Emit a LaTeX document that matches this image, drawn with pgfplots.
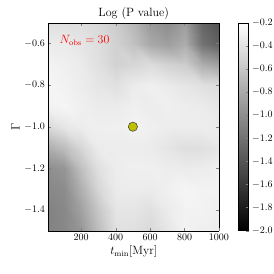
\documentclass[border=0pt]{standalone}
\usepackage{pgfplots}
\pgfplotsset{compat=1.18}
\usepackage{pgfplotstable}
\definecolor{dotc}{rgb}{0.75,0.75,0.0}
\pgfplotstableread{
x y v
10 -1.5 -1.08
100 -1.5 -1.04
200 -1.5 -0.94
300 -1.5 -0.67
400 -1.5 -0.42
500 -1.5 -0.42
600 -1.5 -0.47
700 -1.5 -0.38
800 -1.5 -0.29
900 -1.5 -0.31
1000 -1.5 -0.33
10 -1.4 -1.08
100 -1.4 -1.04
200 -1.4 -0.86
300 -1.4 -0.60
400 -1.4 -0.38
500 -1.4 -0.38
600 -1.4 -0.42
700 -1.4 -0.34
800 -1.4 -0.29
900 -1.4 -0.29
1000 -1.4 -0.31
10 -1.3 -1.04
100 -1.3 -1.01
200 -1.3 -0.76
300 -1.3 -0.49
400 -1.3 -0.34
500 -1.3 -0.33
600 -1.3 -0.34
700 -1.3 -0.31
800 -1.3 -0.27
900 -1.3 -0.29
1000 -1.3 -0.29
10 -1.2 -0.99
100 -1.2 -0.94
200 -1.2 -0.64
300 -1.2 -0.42
400 -1.2 -0.33
500 -1.2 -0.31
600 -1.2 -0.31
700 -1.2 -0.33
800 -1.2 -0.34
900 -1.2 -0.33
1000 -1.2 -0.31
10 -1.1 -0.78
100 -1.1 -0.67
200 -1.1 -0.49
300 -1.1 -0.34
400 -1.1 -0.33
500 -1.1 -0.33
600 -1.1 -0.34
700 -1.1 -0.38
800 -1.1 -0.43
900 -1.1 -0.42
1000 -1.1 -0.38
10 -1.0 -0.47
100 -1.0 -0.38
200 -1.0 -0.33
300 -1.0 -0.31
400 -1.0 -0.31
500 -1.0 -0.29
600 -1.0 -0.31
700 -1.0 -0.33
800 -1.0 -0.33
900 -1.0 -0.33
1000 -1.0 -0.34
10 -0.9 -0.29
100 -0.9 -0.27
200 -0.9 -0.31
300 -0.9 -0.34
400 -0.9 -0.34
500 -0.9 -0.31
600 -0.9 -0.33
700 -0.9 -0.31
800 -0.9 -0.33
900 -0.9 -0.34
1000 -0.9 -0.38
10 -0.8 -0.27
100 -0.8 -0.29
200 -0.8 -0.33
300 -0.8 -0.38
400 -0.8 -0.42
500 -0.8 -0.34
600 -0.8 -0.31
700 -0.8 -0.34
800 -0.8 -0.38
900 -0.8 -0.42
1000 -0.8 -0.45
10 -0.7 -0.29
100 -0.7 -0.31
200 -0.7 -0.34
300 -0.7 -0.42
400 -0.7 -0.52
500 -0.7 -0.49
600 -0.7 -0.45
700 -0.7 -0.52
800 -0.7 -0.56
900 -0.7 -0.78
1000 -0.7 -0.88
10 -0.6 -0.34
100 -0.6 -0.34
200 -0.6 -0.38
300 -0.6 -0.43
400 -0.6 -0.52
500 -0.6 -0.63
600 -0.6 -0.81
700 -0.6 -0.88
800 -0.6 -0.78
900 -0.6 -1.19
1000 -0.6 -1.32
10 -0.5 -0.42
100 -0.5 -0.42
200 -0.5 -0.43
300 -0.5 -0.47
400 -0.5 -0.56
500 -0.5 -0.70
600 -0.5 -0.92
700 -0.5 -1.01
800 -0.5 -0.88
900 -0.5 -1.28
1000 -0.5 -1.42
}\pvaltable
\begin{document}
\begin{tikzpicture}
\useasboundingbox (-48.5pt,-43.3pt) rectangle (225.5pt,230.7pt);
\begin{axis}[
  at={(0pt,0pt)}, anchor=south west,
  scale only axis, width=170.5pt, height=208pt,
  view={0}{90},
  xmin=10, xmax=1000, ymin=-1.5, ymax=-0.5,
  xtick={200,400,600,800,1000},
  ytick={-1.4,-1.2,-1.0,-0.8,-0.6},
  xticklabel style={/pgf/number format/1000 sep={}},
  yticklabel style={/pgf/number format/.cd, fixed, fixed zerofill, precision=1},
  tick align=inside,
  major tick length=3pt,
  tick label style={font=\normalsize},
  title={Log (P value)},
  title style={font=\large, yshift=-6pt},
  xlabel={$t_{\min}[\mathrm{Myr}]$},
  ylabel={$\Gamma$},
  label style={font=\large},
  xlabel style={yshift=2pt},
  ylabel style={yshift=-2pt},
  colormap/blackwhite,
  point meta min=-2, point meta max=-0.2,
  colorbar right,
  colorbar style={
    at={(parent axis.north east)}, anchor=north west, xshift=11pt,
    scale only axis, width=10pt, height=208pt,
    ytick={-2,-1.8,-1.6,-1.4,-1.2,-1,-0.8,-0.6,-0.4,-0.2},
    yticklabel style={font=\normalsize, /pgf/number format/.cd, fixed, fixed zerofill, precision=1},
    ytick pos=right,
    tick align=inside,
    major tick length=3pt,
  },
]
\addplot3[surf, shader=interp, mesh/rows=11, mesh/cols=11] table[x=x, y=y, z=v] {\pvaltable};
\addplot3[only marks, mark=*, mark size=4.6pt, mark options={fill=dotc, draw=black!80, line width=0.5pt}] coordinates {(500,-1.0,0)};
\node[text=red, anchor=west, font=\large] at (axis description cs:0.045,0.913) {$N_{\mathrm{obs}}=30$};
\end{axis}
\end{tikzpicture}
\end{document}
